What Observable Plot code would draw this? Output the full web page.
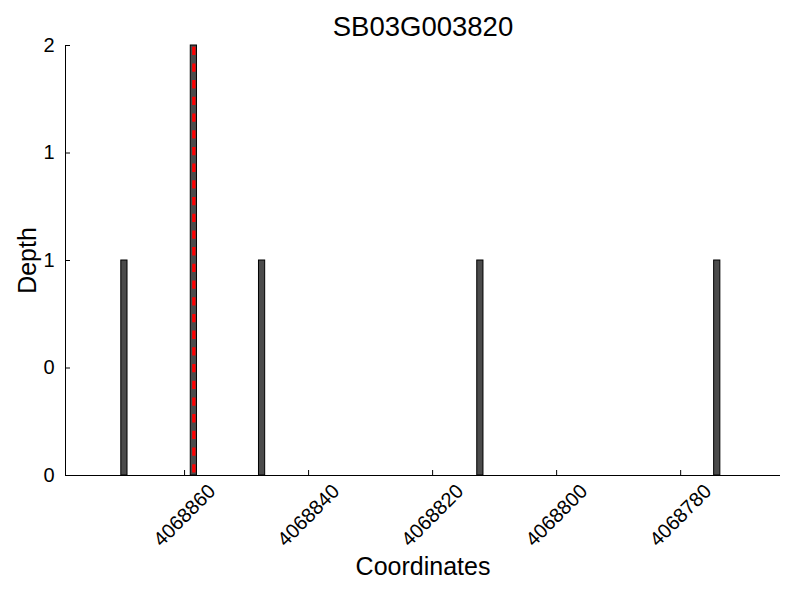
<!DOCTYPE html>
<html>
<head>
<meta charset="utf-8">
<script src="https://cdn.jsdelivr.net/npm/d3@7"></script>
<script src="https://cdn.jsdelivr.net/npm/@observablehq/plot@0.6"></script>
<style>
  html, body { margin: 0; padding: 0; background: white; }
  #chart { width: 800px; height: 600px; }
</style>
</head>
<body>
<div id="chart"></div>
<script>
const title = "SB03G003820";
const xLabel = "Coordinates";
const yLabel = "Depth";
const coords = [4068869.7, 4068858.5, 4068847.5, 4068812.3, 4068774.1];
const depths = [1, 2, 1, 1, 1];
const highlightCoords = [4068858.5];
const highlightDepth = [2];
const xTicks = [4068860, 4068840, 4068820, 4068800, 4068780];
const yTicks = [0, 0.5, 1, 1.5, 2];
const xDomain = [4068879.2, 4068763.9];
const yDomain = [0, 2];

const bars = coords.map((c, i) => ({x: c, depth: depths[i]}));
const hl = highlightCoords.map((c, i) => ({x: c, depth: highlightDepth[i]}));

const chart = Plot.plot({
  width: 800,
  height: 600,
  marginLeft: 65,
  marginRight: 20,
  marginTop: 45,
  marginBottom: 125,
  style: {fontFamily: "Liberation Sans, Arial, sans-serif", background: "white", color: "black"},
  x: {domain: xDomain, axis: null},
  y: {domain: yDomain, axis: null},
  marks: [
    Plot.rectY(bars, {x1: d => d.x - 0.5, x2: d => d.x + 0.5, y1: 0, y2: "depth", fill: "#4b4b4b", stroke: "black", strokeWidth: 1}),
    Plot.ruleX(hl, {x: "x", y1: 0, y2: "depth", stroke: "red", strokeWidth: 3.3, strokeDasharray: "8.3,8.4", strokeDashoffset: -2.5}),
    Plot.ruleY([yDomain[0]], {stroke: "black", strokeWidth: 1}),
    Plot.ruleX([xDomain[0]], {stroke: "black", strokeWidth: 1}),
    Plot.axisX({ticks: xTicks, tickSize: -5, tickFormat: () => "", label: null}),
    Plot.axisY({ticks: yTicks, tickSize: -5, tickFormat: () => "", label: null}),
    Plot.text(xTicks, {x: d => d, frameAnchor: "bottom", dy: 40, rotate: -45, textAnchor: "middle", lineAnchor: "middle", fontSize: 20, text: d => String(d), fill: "black"}),
    Plot.text(yTicks, {y: d => d, frameAnchor: "left", dx: -11, textAnchor: "end", lineAnchor: "middle", fontSize: 20, text: d => String(Math.floor(d)), fill: "black"}),
    Plot.text([title], {frameAnchor: "top", dy: -18, lineAnchor: "middle", fontSize: 27.5, text: d => d, fill: "black"}),
    Plot.text([xLabel], {frameAnchor: "bottom", dy: 91, lineAnchor: "middle", fontSize: 25, text: d => d, fill: "black"}),
    Plot.text([yLabel], {frameAnchor: "left", dx: -38, rotate: -90, textAnchor: "middle", lineAnchor: "middle", fontSize: 25, text: d => d, fill: "black"})
  ]
});
document.getElementById("chart").appendChild(chart);
</script>
</body>
</html>
